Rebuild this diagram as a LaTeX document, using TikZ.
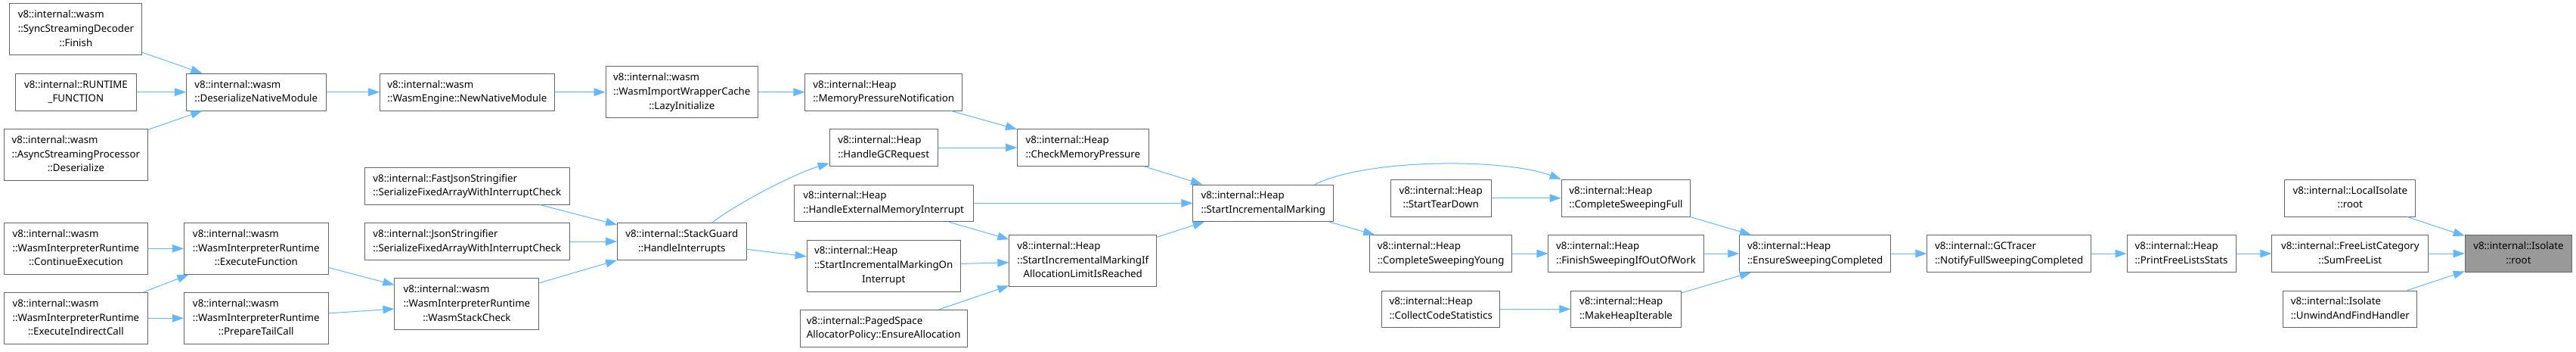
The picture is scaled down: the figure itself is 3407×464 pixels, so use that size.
\documentclass[tikz,border=0pt]{standalone}
\usepackage{fontspec}
\setmainfont{Noto Sans}
\usetikzlibrary{arrows.meta}
\definecolor{edgeblue}{HTML}{63B8FF}
\definecolor{boxgray}{HTML}{666666}
\definecolor{rootgray}{HTML}{999999}
% all lines left, the last one centred
\newcommand{\fnlabel}[2]{\begin{tabular}{@{}l@{}}#1\\\multicolumn{1}{@{}c@{}}{#2}\end{tabular}}
\begin{document}
\begin{tikzpicture}[x=1pt, y=1pt,
  fn/.style={draw=boxgray, line width=1pt, fill=white, rectangle, inner sep=2pt, minimum height=48.7pt, font=\fontsize{13.3}{18.8}\selectfont},
  tall/.style={minimum height=68pt},
  call/.style={draw=edgeblue, line width=1pt, -{Triangle[length=15pt, width=10.5pt]}}]
\fill[white] (0,0) rectangle (3407,-464);
\node[fn, tall, minimum width=175pt] (Finish) at (100.4,-38.7) {\fnlabel{v8::internal::wasm\\::SyncStreamingDecoder}{::Finish}};
\node[fn, minimum width=159.7pt] (RtFn) at (100.4,-121.65) {\fnlabel{v8::internal::RUNTIME}{\_FUNCTION}};
\node[fn, tall, minimum width=189.3pt] (AsyncDes) at (100.4,-204.35) {\fnlabel{v8::internal::wasm\\::AsyncStreamingProcessor}{::Deserialize}};
\node[fn, minimum width=184.7pt] (DesNM) at (338.8,-121.65) {\fnlabel{v8::internal::wasm}{::DeserializeNativeModule}};
\node[fn, minimum width=230.6pt] (NewNM) at (617.8,-121.65) {\fnlabel{v8::internal::wasm}{::WasmEngine::NewNativeModule}};
\node[fn, minimum width=271.5pt] (FastJson) at (617.8,-245.65) {\fnlabel{v8::internal::FastJsonStringifier}{::SerializeFixedArrayWithInterruptCheck}};
\node[fn, minimum width=271.5pt] (JsonSer) at (617.8,-319) {\fnlabel{v8::internal::JsonStringifier}{::SerializeFixedArrayWithInterruptCheck}};
\node[fn, tall, minimum width=189.8pt] (ContExec) at (100.4,-328.35) {\fnlabel{v8::internal::wasm\\::WasmInterpreterRuntime}{::ContinueExecution}};
\node[fn, tall, minimum width=190.8pt] (ExecFn) at (338.8,-328.35) {\fnlabel{v8::internal::wasm\\::WasmInterpreterRuntime}{::ExecuteFunction}};
\node[fn, tall, minimum width=189.8pt] (IndCall) at (100.4,-420.35) {\fnlabel{v8::internal::wasm\\::WasmInterpreterRuntime}{::ExecuteIndirectCall}};
\node[fn, tall, minimum width=190.8pt] (TailCall) at (338.8,-420.35) {\fnlabel{v8::internal::wasm\\::WasmInterpreterRuntime}{::PrepareTailCall}};
\node[fn, tall, minimum width=190.9pt] (StackChk) at (617.4,-401.5) {\fnlabel{v8::internal::wasm\\::WasmInterpreterRuntime}{::WasmStackCheck}};
\node[fn, tall, minimum width=201.5pt] (Lazy) at (901.8,-121.7) {\fnlabel{v8::internal::wasm\\::WasmImportWrapperCache}{::LazyInitialize}};
\node[fn, minimum width=207.6pt] (MemPN) at (1168.7,-121.65) {\fnlabel{v8::internal::Heap}{::MemoryPressureNotification}};
\node[fn, minimum width=142.9pt] (GCReq) at (1168.7,-195) {\fnlabel{v8::internal::Heap}{::HandleGCRequest}};
\node[fn, minimum width=173.5pt] (CheckMP) at (1432.3,-195) {\fnlabel{v8::internal::Heap}{::CheckMemoryPressure}};
\node[fn, minimum width=236.7pt] (ExtMI) at (1168.7,-268.35) {\fnlabel{v8::internal::Heap}{::HandleExternalMemoryInterrupt}};
\node[fn, minimum width=170.4pt] (StackHI) at (901.8,-319) {\fnlabel{v8::internal::StackGuard}{::HandleInterrupts}};
\node[fn, tall, minimum width=203.1pt] (SIMOnInt) at (1168.7,-351) {\fnlabel{v8::internal::Heap\\::StartIncrementalMarkingOn}{Interrupt}};
\node[fn, tall, minimum width=194.9pt] (SIMIf) at (1432.3,-344.35) {\fnlabel{v8::internal::Heap\\::StartIncrementalMarkingIf}{AllocationLimitIsReached}};
\node[fn, minimum width=221.4pt] (PagedEA) at (1168.7,-433.65) {\fnlabel{v8::internal::PagedSpace}{AllocatorPolicy::EnsureAllocation}};
\node[fn, minimum width=185.7pt] (SIM) at (1670.8,-268.35) {\fnlabel{v8::internal::Heap}{::StartIncrementalMarking}};
\node[fn, minimum width=133.1pt] (TearDown) at (1905.7,-261.65) {\fnlabel{v8::internal::Heap}{::StartTearDown}};
\node[fn, minimum width=170.9pt] (CSFull) at (2150.5,-261.65) {\fnlabel{v8::internal::Heap}{::CompleteSweepingFull}};
\node[fn, minimum width=188.3pt] (CSYoung) at (1905.7,-335) {\fnlabel{v8::internal::Heap}{::CompleteSweepingYoung}};
\node[fn, minimum width=205.1pt] (FinishSw) at (2150.5,-335) {\fnlabel{v8::internal::Heap}{::FinishSweepingIfOutOfWork}};
\node[fn, minimum width=155.6pt] (CodeStats) at (1905.7,-408.35) {\fnlabel{v8::internal::Heap}{::CollectCodeStatistics}};
\node[fn, minimum width=145.4pt] (MakeIter) at (2150.5,-408.35) {\fnlabel{v8::internal::Heap}{::MakeHeapIterable}};
\node[fn, minimum width=199.8pt] (EnsureSw) at (2400.7,-335) {\fnlabel{v8::internal::Heap}{::EnsureSweepingCompleted}};
\node[fn, minimum width=216.4pt] (NotifyFS) at (2657.1,-335) {\fnlabel{v8::internal::GCTracer}{::NotifyFullSweepingCompleted}};
\node[fn, minimum width=144.2pt] (PrintFLS) at (2885.1,-335) {\fnlabel{v8::internal::Heap}{::PrintFreeListsStats}};
\node[fn, minimum width=206.8pt] (SumFL) at (3108.3,-335) {\fnlabel{v8::internal::FreeListCategory}{::SumFreeList}};
\node[fn, minimum width=172.8pt] (LocalRoot) at (3108.3,-261.65) {\fnlabel{v8::internal::LocalIsolate}{::root}};
\node[fn, minimum width=177pt] (Unwind) at (3108.3,-408.35) {\fnlabel{v8::internal::Isolate}{::UnwindAndFindHandler}};
\node[fn, fill=rootgray, minimum width=141.5pt] (Root) at (3330.9,-335) {\fnlabel{v8::internal::Isolate}{::root}};
% wasm callers
\draw[call] (Finish) -- (DesNM);
\draw[call] (RtFn) -- (DesNM);
\draw[call] (AsyncDes) -- (DesNM);
\draw[call] (DesNM) -- (NewNM);
\draw[call] (NewNM) -- (Lazy);
\draw[call] (Lazy) -- (MemPN);
\draw[call] (ContExec) -- (ExecFn);
\draw[call] (IndCall) -- (ExecFn);
\draw[call] (IndCall) -- (TailCall);
\draw[call] (ExecFn) -- (StackChk);
\draw[call] (TailCall) -- (StackChk);
\draw[call] (FastJson) -- (StackHI);
\draw[call] (JsonSer) -- (StackHI);
\draw[call] (StackChk) -- (StackHI);
% heap
\draw[call] (StackHI.32) .. controls (980,-265) and (1055,-228) .. (GCReq.196);
\draw[call] (StackHI) -- (SIMOnInt);
\draw[call] (MemPN) -- (CheckMP);
\draw[call] (GCReq) -- (CheckMP);
\draw[call] (ExtMI) -- (SIMIf);
\draw[call] (SIMOnInt) -- (SIMIf);
\draw[call] (PagedEA) -- (SIMIf);
\draw[call] (CheckMP) -- (SIM);
\draw[call] (ExtMI) -- (SIM);
\draw[call] (SIMIf) -- (SIM);
\draw[call] (SIM.20) .. controls (1810,-209) and (1990,-209) .. (CSFull.north west);
\draw[call] (SIM) -- (CSYoung);
\draw[call] (TearDown) -- (CSFull);
\draw[call] (CSYoung) -- (FinishSw);
\draw[call] (CodeStats) -- (MakeIter);
\draw[call] (CSFull) -- (EnsureSw);
\draw[call] (FinishSw) -- (EnsureSw);
\draw[call] (MakeIter) -- (EnsureSw);
% towards the root
\draw[call] (EnsureSw) -- (NotifyFS);
\draw[call] (NotifyFS) -- (PrintFLS);
\draw[call] (PrintFLS) -- (SumFL);
\draw[call] (SumFL) -- (Root);
\draw[call] (LocalRoot) -- (Root);
\draw[call] (Unwind) -- (Root);
\end{tikzpicture}
\end{document}
